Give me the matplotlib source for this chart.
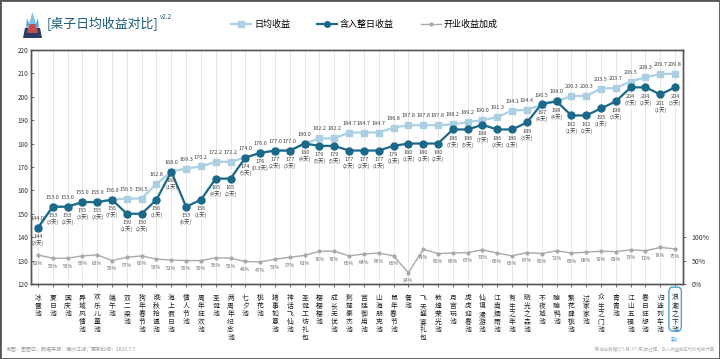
import matplotlib
matplotlib.use("Agg")
import matplotlib.pyplot as plt
from matplotlib.lines import Line2D
from matplotlib.patches import FancyBboxPatch, Rectangle, Polygon
from matplotlib.transforms import blended_transform_factory

plt.rcParams['font.family'] = ['Noto Sans CJK SC', 'DejaVu Sans']

categories = ["冰雪池", "夏日池", "国庆池", "异域风情池", "欢乐儿童池", "端午池", "双二梁池",
              "狗年春节池", "晚秋拾遗池", "海上假日池", "情人节池", "周年狂欢池", "圣诞池",
              "两周年纪念池", "七夕池", "桃花池", "猪事如意池", "神话飞仙池", "圣诞工坊礼包",
              "樱樱樱池", "成长无忧池", "荆楚豪杰池", "宫廷御用池", "山海朋克池", "鼠年春节池",
              "餐池", "飞天盛宴礼包", "敦煌荣光池", "月宫玩池", "虎虎迎春池", "仙境漫游池",
              "江南烟雨池", "有生之年池", "晓光之森池", "不夜城池", "蹦蹦鸭池", "繁花肆桃池",
              "过家家池", "众生之门池", "青青池", "江山五福池", "春日狂想池", "归途列车池",
              "浪潮之下池"]

daily = [144.0, 153.0, 153.0, 155.0, 155.0, 156.0, 156.5, 156.5, 162.8, 168.0,
         169.3, 170.2, 172.2, 172.2, 174.0, 176.0, 177.0, 177.0, 180.0, 182.2,
         182.2, 184.7, 184.7, 184.7, 186.8, 187.8, 187.8, 187.8, 188.2, 189.2,
         190.0, 191.3, 194.1, 194.4, 196.5, 198.0, 200.3, 200.3, 203.5, 203.7,
         206.5, 208.3, 209.7, 209.8]

full_day = [144, 153, 153, 155, 155, 156, 150, 150, 156, 168,
            153, 156, 165, 165, 174, 176, 177, 177, 180, 179,
            179, 177, 177, 177, 179, 180, 180, 180, 186, 186,
            188, 186, 186, 189, 197, 198, 192, 192, 195, 198,
            204, 204, 201, 204]

days = ["3", "3", "2", "3", "3", "7", "1", "2", "1", "1",
        "6", "1", "4", "2", "5", "0.3", "2", "3", "4", "5",
        "5", "2", "2", "1", "1", "1", "1", "2", "7", "5",
        "7", "3", "1", "3", "4", "4", "1", "2", "1", "3",
        "7", "2", "1", "3"]

bonus = [62, 55, 55, 60, 62, 50, 57, 60, 53, 51, 50, 50, 56, 55,
         48, 47, 53, 57, 61, 70, 70, 60, 64, 66, 60, 24, 74, 65, 66, 67,
         73, 66, 60, 67, 65, 71, 66, 68, 70, 69, 73, 71, 78, 75]

y_ticks = [120, 130, 140, 150, 160, 170, 180, 190, 200, 210, 220]
pct_ticks = [0, 50, 100]

C_LIGHT = '#abd0e3'
C_DARK = '#1b6888'
C_GRAY = '#a9a9a9'
C_TEXT = '#444444'

fig = plt.figure(figsize=(7.2, 3.59), dpi=100)
ax = fig.add_axes([0.043, 0.209, 0.906, 0.652])
ax2 = ax.twinx()

x = list(range(len(categories)))

for xi in x:
    ax.axvline(xi, color='#e8e8e8', lw=0.7, zorder=0)

ax.plot(x, daily, color=C_LIGHT, lw=1.6, marker='s', ms=5, zorder=3)
ax.plot(x, full_day, color=C_DARK, lw=1.6, marker='o', ms=5, zorder=4)
ax2.plot(x, bonus, color=C_GRAY, lw=1.0, marker='o', ms=2, zorder=2)

for xi, v in zip(x, daily):
    ax.annotate(f"{v:.1f}", (xi, v), xytext=(0, 5), textcoords='offset points',
                ha='center', va='bottom', fontsize=4, color=C_TEXT, zorder=6)
for xi, v, d in zip(x, full_day, days):
    ax.annotate(f"{v}\n({d}天)", (xi, v), xytext=(0, -4.5), textcoords='offset points',
                ha='center', va='top', fontsize=4, color=C_TEXT, linespacing=1.25, zorder=6)
for xi, p in zip(x, bonus):
    ax2.annotate(f"{p}%", (xi, p), xytext=(0, -4), textcoords='offset points',
                 ha='center', va='top', fontsize=3.6, color='#666666')

ax.set_xlim(-0.47, 43.55)
ax.set_ylim(120, 220)
ax.set_yticks(y_ticks)
ax.set_yticklabels([str(t) for t in y_ticks], fontsize=4.6, color='#333333')
ax2.set_ylim(0, 500)
ax2.set_yticks(pct_ticks)
ax2.set_yticklabels([f"{t}%" for t in pct_ticks], fontsize=5, color='#333333')

ax.set_xticks(x)
ax.set_xticklabels(['\n'.join(c) for c in categories], fontsize=4.9, color='#222222',
                   linespacing=1.02, va='top')
ax.tick_params(axis='x', length=2, width=0.6, color='#555555', pad=5)
ax.tick_params(axis='y', length=2, width=0.6, color='#555555', pad=2, direction='in')
ax2.tick_params(axis='y', length=2, width=0.6, color='#555555', pad=4)

for a in (ax, ax2):
    for s in a.spines.values():
        s.set_color('#555555')
        s.set_linewidth(1.0)

# highlight last category
tr = blended_transform_factory(ax.transData, fig.transFigure)
box = FancyBboxPatch((43 - 0.42, 0.078), 0.84, 0.122, boxstyle="round,pad=0,rounding_size=0.25",
                     transform=tr, fill=False, ec='#4da6d9', lw=1.0, clip_on=False,
                     mutation_aspect=0.05)
fig.patches.append(box)
fig.text(43, 0.052, "新!", transform=tr, ha='center', va='center', fontsize=4.3, color='#4da6d9')

# title
fig.text(0.065, 0.933, "[桌子日均收益对比]", fontsize=9.3, color='#1b5a78', va='center', ha='left')
fig.text(0.222, 0.953, "v2.2", fontsize=4.6, color='#1b5a78', va='center', ha='left')

# icon
def px(pts):
    return [(a / 720, 1 - b / 359) for a, b in pts]
fig.patches.append(Polygon(px([(23, 38), (42, 38), (40, 28), (25, 28)]), closed=True,
                           transform=fig.transFigure, fc='#2a3d66', ec='none'))
fig.patches.append(Polygon(px([(27, 33), (38, 33), (36, 24), (29, 24)]), closed=True,
                           transform=fig.transFigure, fc='#c0504d', ec='none'))
fig.patches.append(Polygon(px([(29, 24), (32.5, 12), (36, 24)]), closed=True,
                           transform=fig.transFigure, fc='#7fc4e6', ec='none'))
fig.patches.append(Polygon(px([(26, 28), (27, 18), (30, 26)]), closed=True,
                           transform=fig.transFigure, fc='#5aa7d6', ec='none'))
fig.patches.append(Polygon(px([(35, 26), (38, 18), (39, 28)]), closed=True,
                           transform=fig.transFigure, fc='#5aa7d6', ec='none'))

# legend
handles = [Line2D([], [], color=C_LIGHT, lw=1.6, marker='s', ms=4),
           Line2D([], [], color=C_DARK, lw=1.6, marker='o', ms=4),
           Line2D([], [], color=C_GRAY, lw=1.0, marker='o', ms=2)]
fig.legend(handles, ["日均收益", "含入整日收益", "开业收益加成"], loc='center',
           bbox_to_anchor=(0.506, 0.933), ncol=3, frameon=False, fontsize=6.5,
           handlelength=2.2, handletextpad=0.3, columnspacing=3.0)

# footers
fig.text(0.009, 0.028, "制图：团团白；数据来源：喵炒江湖；更新时间：2023.7.7", fontsize=3.6,
         color='#999999', ha='left', va='center')
fig.text(0.993, 0.028, "*新店前数据(2个月/3个月)的过程，含入收益按日均价格来计算", fontsize=3.2,
         color='#aaaaaa', ha='right', va='center')

# outer border
fig.patches.append(Rectangle((0, 0), 1, 1, transform=fig.transFigure, fill=False,
                             ec='#555555', lw=2.0))

fig.savefig("out.png", dpi=100)
